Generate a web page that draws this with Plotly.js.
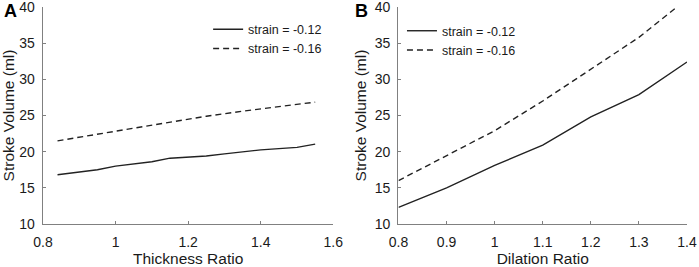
<!DOCTYPE html>
<html>
<head>
<meta charset="utf-8">
<script src="https://cdn.plot.ly/plotly-3.0.1.min.js"></script>
<style>html,body{margin:0;padding:0;background:#fff}#chart{width:699px;height:267px}</style>
</head>
<body>
<div id="chart"></div>
<script>
// Panel A: thickness ratio
var thickX = [0.84, 0.95, 1.0, 1.1, 1.15, 1.25, 1.3, 1.4, 1.5, 1.55];
var thickSolid = [16.8, 17.5, 18.0, 18.6, 19.1, 19.4, 19.7, 20.25, 20.6, 21.05];
var thickDashX = [0.84, 0.95, 1.05, 1.15, 1.25, 1.35, 1.45, 1.55];
var thickDash = [21.5, 22.4, 23.2, 24.1, 24.9, 25.6, 26.2, 26.85];
// Panel B: dilation ratio
var dilX = [0.8, 0.9, 1.0, 1.1, 1.2, 1.3, 1.4];
var dilSolid = [12.3, 15.0, 18.1, 20.9, 24.8, 27.9, 32.4];
var dilDash = [16.0, 19.5, 22.9, 27.0, 31.4, 35.8, 41.1];
var seriesNames = ['strain = -0.12', 'strain = -0.16'];
var xTicksA = [0.8, 1, 1.2, 1.4, 1.6];
var xTicksB = [0.8, 0.9, 1, 1.1, 1.2, 1.3, 1.4];
var yTicks = [10, 15, 20, 25, 30, 35, 40];

var lineColor = '#222';
var traces = [
  {x: thickX, y: thickSolid, name: seriesNames[0], mode: 'lines', xaxis: 'x', yaxis: 'y', legend: 'legend',
   line: {color: lineColor, width: 1.4}},
  {x: thickDashX, y: thickDash, name: seriesNames[1], mode: 'lines', xaxis: 'x', yaxis: 'y', legend: 'legend',
   line: {color: lineColor, width: 1.4, dash: '6px,4px'}},
  {x: dilX, y: dilSolid, name: seriesNames[0], mode: 'lines', xaxis: 'x2', yaxis: 'y2', legend: 'legend2',
   line: {color: lineColor, width: 1.4}},
  {x: dilX, y: dilDash, name: seriesNames[1], mode: 'lines', xaxis: 'x2', yaxis: 'y2', legend: 'legend2',
   line: {color: lineColor, width: 1.4, dash: '6px,4px'}}
];

var fontFam = 'Liberation Sans, Arial, sans-serif';
var axisCommon = {
  showline: true, linecolor: '#808080', linewidth: 1.3,
  ticks: 'inside', ticklen: 3, tickcolor: '#808080', tickwidth: 1,
  showgrid: false, zeroline: false, mirror: false,
  ticklabeloverflow: 'allow',
  tickfont: {family: fontFam, size: 14, color: '#1a1a1a'}
};
function ax(extra) { return Object.assign({}, axisCommon, extra); }

var layout = {
  width: 699, height: 267,
  margin: {l: 43, r: 12, t: 7, b: 43},
  paper_bgcolor: '#fff', plot_bgcolor: '#fff',
  font: {family: fontFam, color: '#1a1a1a'},
  xaxis: ax({domain: [0, 0.4508], range: [0.8, 1.6], tickvals: xTicksA, ticktext: xTicksA.map(String),
    ticklabelstandoff: 5,
    title: {text: 'Thickness Ratio', font: {family: fontFam, size: 15.5, color: '#1a1a1a'}, standoff: 6}}),
  yaxis: ax({domain: [0, 1], range: [10, 40], tickvals: yTicks, anchor: 'x',
    ticklabelstandoff: 4,
    title: {text: 'Stroke Volume (ml)', font: {family: fontFam, size: 15.5, color: '#1a1a1a'}, standoff: 4}}),
  xaxis2: ax({domain: [0.552, 1], range: [0.8, 1.4], tickvals: xTicksB, ticktext: xTicksB.map(String), anchor: 'y2',
    ticklabelstandoff: 5,
    title: {text: 'Dilation Ratio', font: {family: fontFam, size: 15.5, color: '#1a1a1a'}, standoff: 6}}),
  yaxis2: ax({domain: [0, 1], range: [10, 40], tickvals: yTicks, anchor: 'x2',
    ticklabelstandoff: 4,
    title: {text: 'Stroke Volume (ml)', font: {family: fontFam, size: 15.5, color: '#1a1a1a'}, standoff: 4}}),
  showlegend: true,
  legend: {x: 0.2564, xanchor: 'left', y: 0.965, yanchor: 'top', bgcolor: 'rgba(0,0,0,0)',
    font: {family: fontFam, size: 12.5, color: '#1a1a1a'}, tracegroupgap: 0},
  legend2: {x: 0.5574, xanchor: 'left', y: 0.958, yanchor: 'top', bgcolor: 'rgba(0,0,0,0)',
    font: {family: fontFam, size: 12.5, color: '#1a1a1a'}, tracegroupgap: 0},
  annotations: [
    {text: '<b>A</b>', xref: 'paper', yref: 'paper', x: -0.064, y: 0.982, xanchor: 'left', yanchor: 'middle',
      showarrow: false, font: {family: fontFam, size: 18, color: '#000'}},
    {text: '<b>B</b>', xref: 'paper', yref: 'paper', x: 0.482, y: 0.982, xanchor: 'left', yanchor: 'middle',
      showarrow: false, font: {family: fontFam, size: 18, color: '#000'}}
  ]
};

Plotly.newPlot('chart', traces, layout, {staticPlot: true, displayModeBar: false});
</script>
</body>
</html>
